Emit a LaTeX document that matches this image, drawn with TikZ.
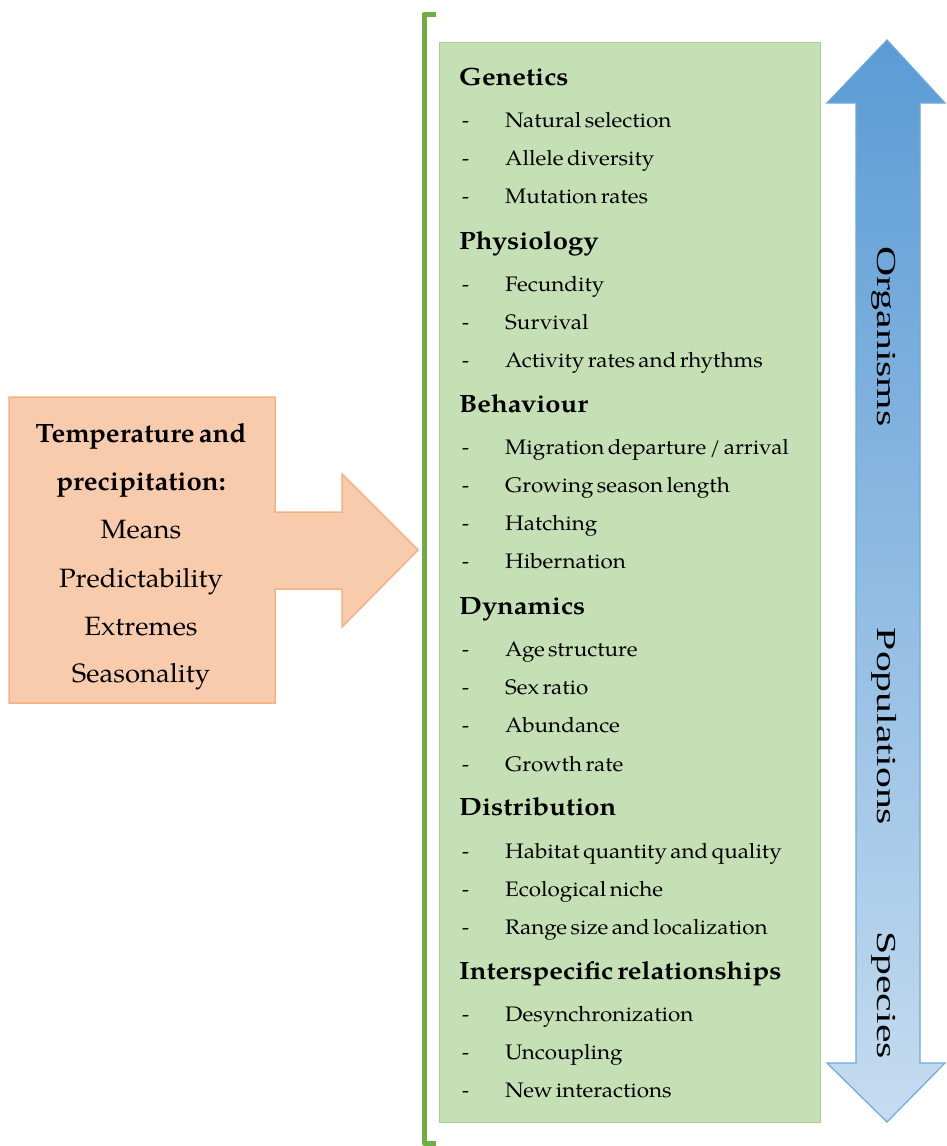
\documentclass[tikz,border=0pt]{standalone}
\usepackage{fontspec}
\setmainfont{texgyrepagella}[Extension=.otf,UprightFont=*-regular,BoldFont=*-bold,ItalicFont=*-italic,BoldItalicFont=*-bolditalic,WordSpace=0.6]
\newfontfamily\scalefont{Liberation Serif}
\definecolor{orangefill}{HTML}{F8CBAD}
\definecolor{orangeline}{HTML}{F4B183}
\definecolor{greenfill}{HTML}{C5E0B4}
\definecolor{greenline}{HTML}{A9D18E}
\definecolor{bracketgreen}{HTML}{70AD47}
\definecolor{bluetop}{HTML}{5B9BD5}
\definecolor{bluebottom}{HTML}{C5DCF0}
\definecolor{blueline}{HTML}{6FA8DC}
\tikzset{
  heading/.style={anchor=base west, inner sep=0pt, font=\fontsize{25}{30}\selectfont\bfseries},
  dashtxt/.style={anchor=base west, inner sep=0pt, font=\fontsize{21}{25}\selectfont},
  itemtxt/.style={anchor=base west, inner sep=0pt, font=\fontsize{21}{25}\selectfont},
  causebold/.style={anchor=base, inner sep=0pt, font=\fontsize{26.5}{31}\selectfont\bfseries},
  causetxt/.style={anchor=base, inner sep=0pt, font=\fontsize{26.5}{31}\selectfont},
  scaletxt/.style={rotate=-90, inner sep=0pt, font=\fontsize{27.5}{32}\selectfont\scalefont},
}
% wide-set text
\newcommand\wideheading[1]{\scalebox{1.095}[1]{#1}}
\newcommand\wideitem[1]{\scalebox{1.068}[1]{#1}}
\newcommand\widecause[1]{\scalebox{1.04}[1]{#1}}
\newcommand\widescale[1]{\scalebox{1.52}[1]{#1}}
% one bullet line of the effects list: name, baseline, text
\newcommand\effectline[3]{%
  \node[dashtxt] (d#1) at (462,#2) {-};
  \node[itemtxt] (t#1) at (505,#2) {\wideitem{#3}};}
\begin{document}
\begin{tikzpicture}[x=1pt,y=-1pt]
\useasboundingbox (0,0) rectangle (946,1146);

% climate drivers: box with a right-pointing arrow
\path[fill=orangefill, draw=orangeline, line width=1.5pt, line join=miter]
  (9,397) -- (275,397) -- (275,512) -- (342,512) -- (342,474) -- (418,550)
  -- (342,627) -- (342,589) -- (275,589) -- (275,703) -- (9,703) -- cycle;
\node[causebold] (c1) at (141,442) {\widecause{Temperature and}};
\node[causebold] (c2) at (141,490) {\widecause{precipitation:}};
\node[causetxt]  (c3) at (141,538) {\widecause{Means}};
\node[causetxt]  (c4) at (141,587) {\widecause{Predictability}};
\node[causetxt]  (c5) at (141,635) {\widecause{Extremes}};
\node[causetxt]  (c6) at (141,682) {\widecause{Seasonality}};

% bracket
\draw[bracketgreen, line width=5pt, line join=round, line cap=butt]
  (436,14) -- (424,14) -- (424,1143) -- (436,1143);

% effects box
\node[draw=greenline, fill=greenfill, line width=1.2pt, minimum width=381pt,
      minimum height=1080pt, anchor=north west, inner sep=0pt] (effects) at (439,42) {};

\node[heading] (h1) at (459,85) {\wideheading{Genetics}};
\effectline{1}{127}{Natural selection}
\effectline{2}{165}{Allele diversity}
\effectline{3}{203}{Mutation rates}
\node[heading] (h2) at (459,249) {\wideheading{Physiology}};
\effectline{4}{291}{Fecundity}
\effectline{5}{329}{Survival}
\effectline{6}{367}{Activity rates and rhythms}
\node[heading] (h3) at (459,412) {\wideheading{Behaviour}};
\effectline{7}{454}{Migration departure / arrival}
\effectline{8}{492}{Growing season length}
\effectline{9}{530}{Hatching}
\effectline{10}{568}{Hibernation}
\node[heading] (h4) at (459,614) {\wideheading{Dynamics}};
\effectline{11}{656}{Age structure}
\effectline{12}{694}{Sex ratio}
\effectline{13}{732}{Abundance}
\effectline{14}{771}{Growth rate}
\node[heading] (h5) at (459,815) {\wideheading{Distribution}};
\effectline{15}{858}{Habitat quantity and quality}
\effectline{16}{896}{Ecological niche}
\effectline{17}{934}{Range size and localization}
\node[heading] (h6) at (459,979) {\wideheading{Interspecific relationships}};
\effectline{18}{1021}{Desynchronization}
\effectline{19}{1059}{Uncoupling}
\effectline{20}{1097}{New interactions}

% scale arrow: organisms to species
\path[draw=blueline, line width=1.2pt, top color=bluetop, bottom color=bluebottom]
  (887,40) -- (945,103) -- (920,103) -- (920,1063) -- (945,1063) -- (887,1122)
  -- (827,1063) -- (856,1063) -- (856,103) -- (827,103) -- cycle;
\node[scaletxt] (s1) at (884,336.5) {\widescale{Organisms}};
\node[scaletxt] (s2) at (884,726.5) {\widescale{Populations}};
\node[scaletxt] (s3) at (884,995) {\widescale{Species}};
\end{tikzpicture}
\end{document}
